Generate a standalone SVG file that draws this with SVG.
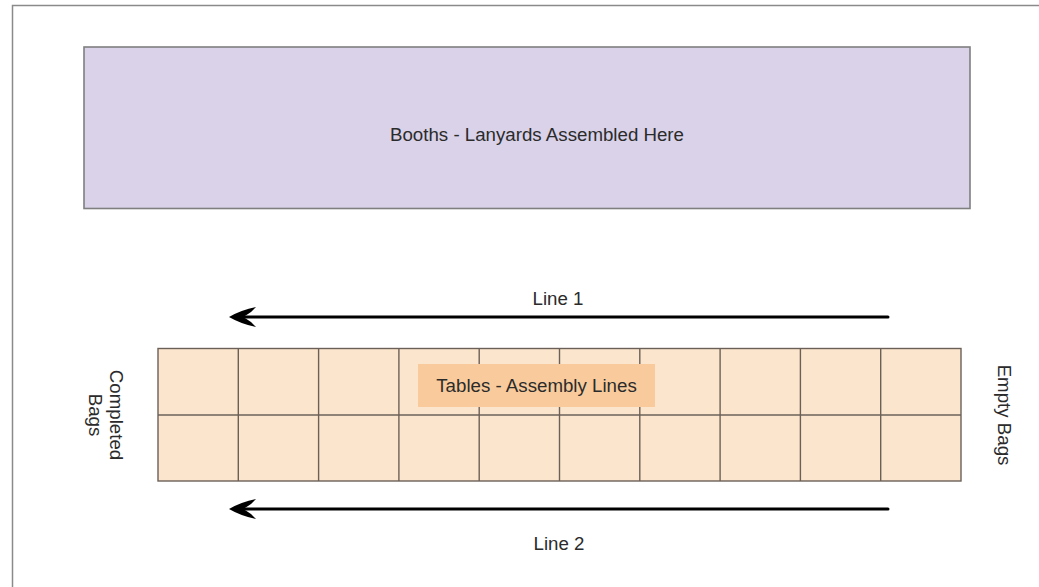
<svg xmlns="http://www.w3.org/2000/svg" width="1039" height="587" viewBox="0 0 1039 587">
  <style>
    .t { font-family: "Liberation Sans", Arial, sans-serif; font-size: 18.7px; fill: #2b2b2b; }
    .c { text-anchor: middle; }
    .cell { fill: #fce5cd; stroke: #6b6058; stroke-width: 1.4; }
    .arrow { stroke: #000; stroke-width: 3; fill: none; stroke-linecap: round; }
    .head { fill: #000; }
  </style>
  <rect width="1039" height="587" fill="#fff"/>
  <g id="frame">
    <rect x="12.5" y="5.5" width="1100" height="700" fill="none" stroke="#8a8a8a" stroke-width="1.5"/>
  </g>
  <g id="booths">
    <rect x="84" y="47" width="886" height="161.5" fill="#d9d2e9" stroke="#7f7f7f" stroke-width="1.6"/>
    <text class="t c" x="537" y="141">Booths - Lanyards Assembled Here</text>
  </g>
  <g id="tables">
    <rect class="cell" x="158" y="348.5" width="803" height="132.5"/>
    <g stroke="#6b6058" stroke-width="1.4">
      <line x1="158" y1="415" x2="961" y2="415"/>
      <line x1="238.3" y1="348.5" x2="238.3" y2="481"/>
      <line x1="318.6" y1="348.5" x2="318.6" y2="481"/>
      <line x1="398.9" y1="348.5" x2="398.9" y2="481"/>
      <line x1="479.2" y1="348.5" x2="479.2" y2="481"/>
      <line x1="559.5" y1="348.5" x2="559.5" y2="481"/>
      <line x1="639.8" y1="348.5" x2="639.8" y2="481"/>
      <line x1="720.1" y1="348.5" x2="720.1" y2="481"/>
      <line x1="800.4" y1="348.5" x2="800.4" y2="481"/>
      <line x1="880.7" y1="348.5" x2="880.7" y2="481"/>
    </g>
  </g>
  <g id="tables-label">
    <rect x="418" y="364" width="237" height="43" fill="#f9cb9c"/>
    <text class="t c" x="536.5" y="392">Tables - Assembly Lines</text>
  </g>
  <g id="completed-bags">
    <text class="t c" transform="translate(110,415) rotate(90)"><tspan x="0" y="0">Completed</tspan><tspan x="0" y="21">Bags</tspan></text>
  </g>
  <g id="empty-bags">
    <text class="t c" transform="translate(997.5,415) rotate(90)" x="0" y="0">Empty Bags</text>
  </g>
  <g id="connectors">
    <g id="line1">
      <line class="arrow" x1="888" y1="317" x2="244" y2="317"/>
      <path class="head" d="M229,317 Q241,310 256,307 L251,312 Q246,315.5 243,317 Q246,318.5 251,322 L256,327 Q241,324 229,317 Z"/>
      <text class="t c" x="558" y="305">Line 1</text>
    </g>
    <g id="line2">
      <line class="arrow" x1="888" y1="509" x2="244" y2="509"/>
      <path class="head" d="M229,509 Q241,502 256,499 L251,504 Q246,507.5 243,509 Q246,510.5 251,514 L256,519 Q241,516 229,509 Z"/>
      <text class="t c" x="559" y="550">Line 2</text>
    </g>
  </g>
</svg>
